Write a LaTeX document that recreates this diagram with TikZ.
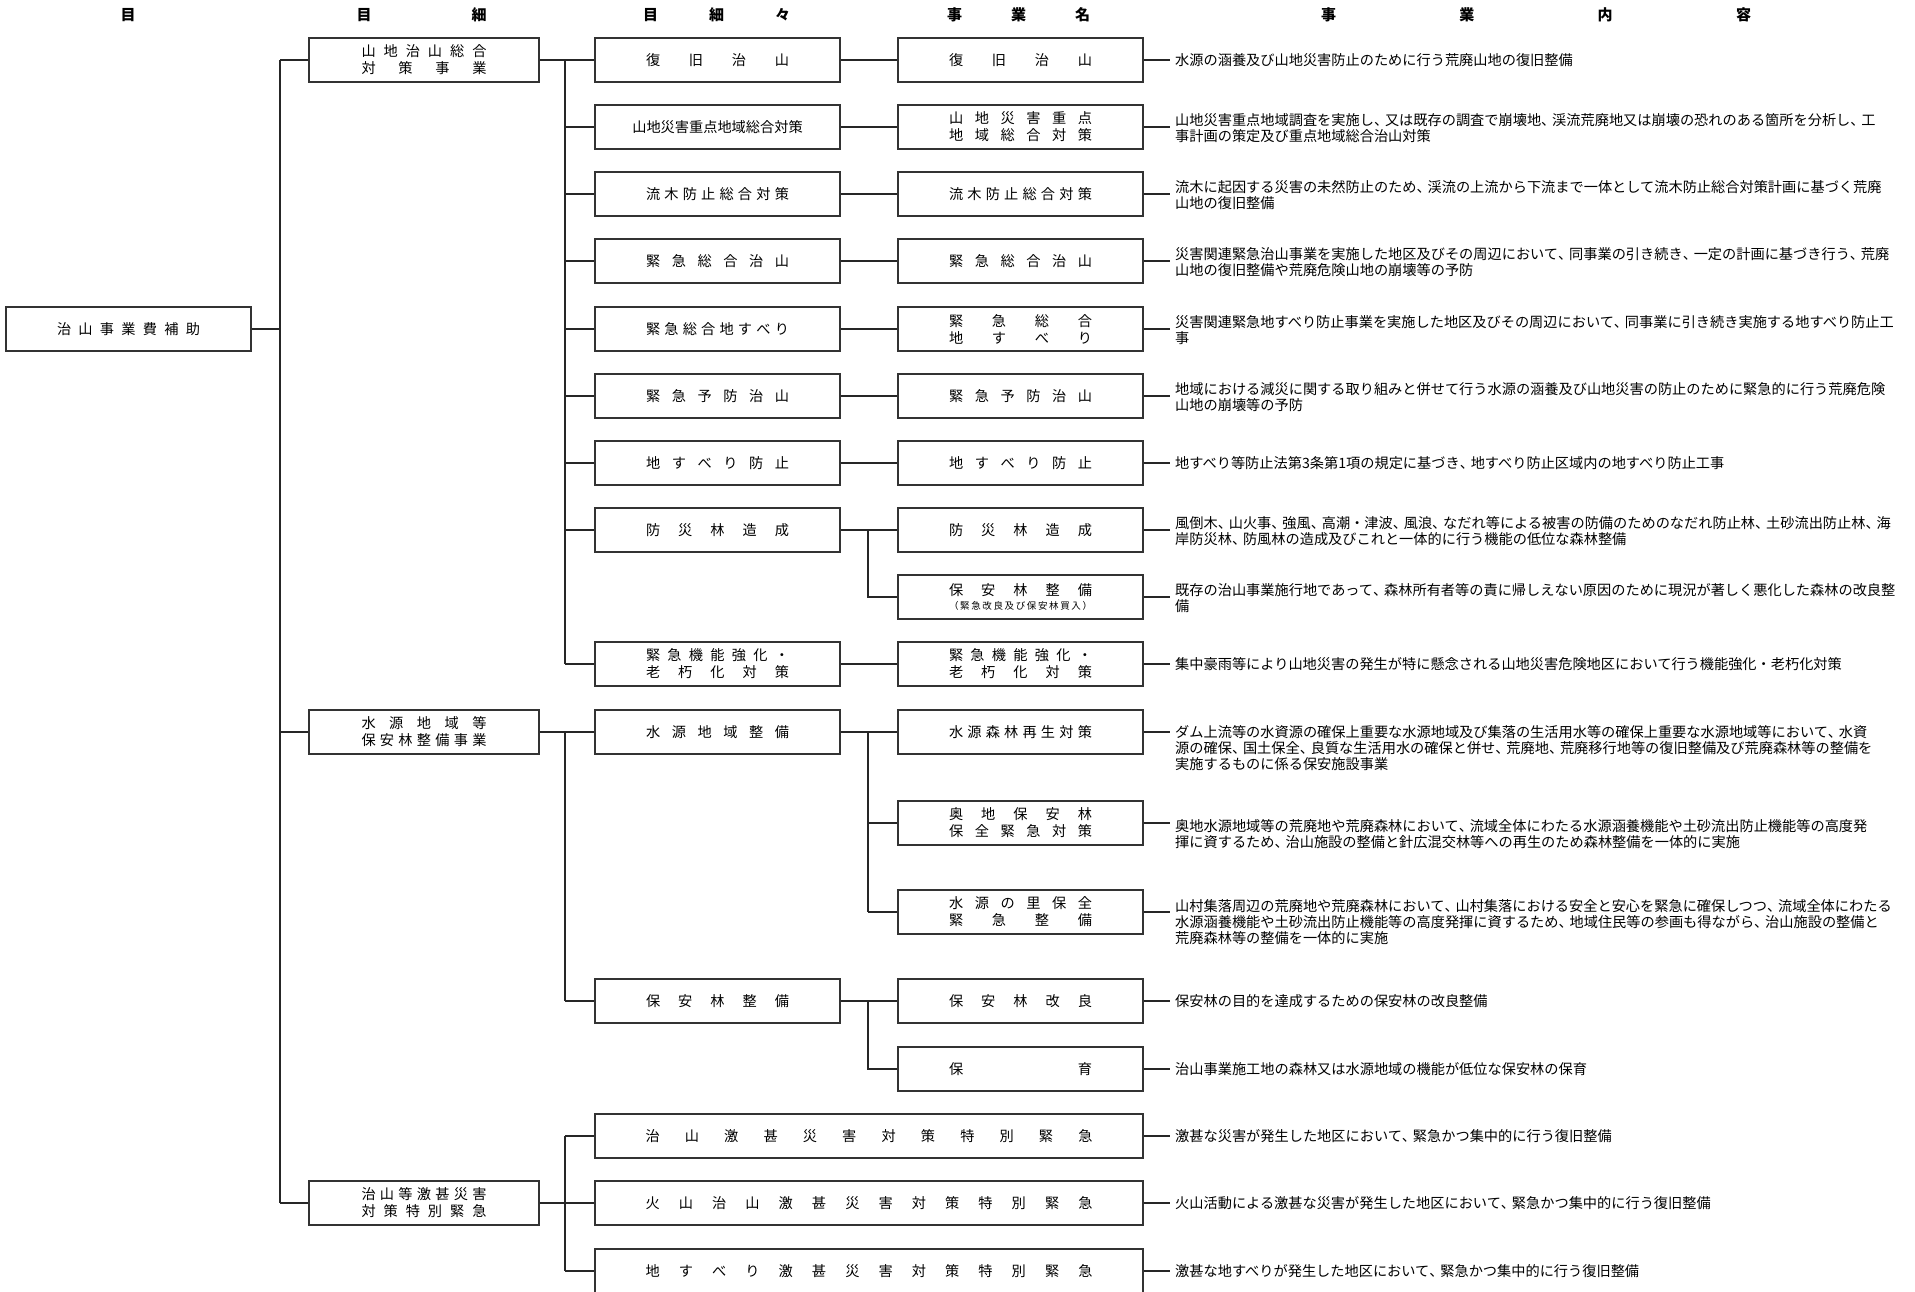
\documentclass[tikz,border=0pt]{standalone}
\usepackage{fontspec}
\setmainfont{Noto Sans CJK JP}
\makeatletter
\def\sprd#1{\sprd@a#1\sprd@end}
\def\sprd@a#1#2\sprd@end{#1\if\relax\detokenize{#2}\relax\else\hfill\sprd@a#2\sprd@end\fi}
\makeatother
\newcommand\dist[2]{\makebox[#1][s]{\sprd{#2}}}
\catcode`、=\active
\def、{\hbox to 11pt{\char"3001\hss}}
\newcommand\bxfont{\fontsize{14.2pt}{17pt}\selectfont}
\newcommand\dsfont{\fontsize{14.2pt}{16pt}\selectfont}
\newcommand\hdfont{\fontsize{15pt}{17pt}\selectfont\bfseries}
\newcommand\smfont{\fontsize{9.5pt}{11pt}\selectfont}
\tikzset{
  ln/.style={draw=black!85, line width=1.1pt},
  bx/.style={draw=black!80, line width=1.2pt, inner sep=0pt, minimum height=44pt, align=center, font=\bxfont},
  wA/.style={bx, minimum width=245pt},
  wB/.style={bx, minimum width=230pt},
  wW/.style={bx, minimum width=548pt},
  desc/.style={inner xsep=5pt, inner ysep=0pt, align=left, font=\dsfont},
  hd/.style={inner sep=0pt, font=\hdfont},
}
\begin{document}
\begin{tikzpicture}[x=1pt,y=-1pt]
\useasboundingbox (0,0) rectangle (1915,1291);
% headers
\node[hd] (h1) at (128,15) {目};
\node[hd] (h2) at (421.5,15) {\dist{130pt}{目細}};
\node[hd] (h3) at (716.5,15) {\dist{147pt}{目細々}};
\node[hd] (h4) at (1018.5,15) {\dist{143pt}{事業名}};
\node[hd] (h5) at (1536,15) {\dist{430pt}{事業内容}};
% bus coordinates
\coordinate (busA) at (280,0);
\coordinate (busB) at (565,0);
\coordinate (busC) at (868,0);
% root and column 2
\node[wA] (root) at (128.5,329) {\dist{143pt}{治山事業費補助}};
\node[wB] (a1) at (424,60) {\dist{125pt}{山地治山総合}\\\dist{125pt}{対策事業}};
\node[wB] (a2) at (424,732) {\dist{125pt}{水源地域等}\\\dist{125pt}{保安林整備事業}};
\node[wB] (a3) at (424,1203) {\dist{125pt}{治山等激甚災害}\\\dist{125pt}{対策特別緊急}};
% column 3
\node[wA] (b0) at (717.5,60) {\dist{143pt}{復旧治山}};
\node[wA] (b1) at (717.5,127) {山地災害重点地域総合対策};
\node[wA] (b2) at (717.5,194) {\dist{143pt}{流木防止総合対策}};
\node[wA] (b3) at (717.5,261) {\dist{143pt}{緊急総合治山}};
\node[wA] (b4) at (717.5,329) {\dist{143pt}{緊急総合地すべり}};
\node[wA] (b5) at (717.5,396) {\dist{143pt}{緊急予防治山}};
\node[wA] (b6) at (717.5,463) {\dist{143pt}{地すべり防止}};
\node[wA] (b7) at (717.5,530) {\dist{143pt}{防災林造成}};
\node[wA] (b9) at (717.5,664) {\dist{143pt}{緊急機能強化・}\\\dist{143pt}{老朽化対策}};
\node[wA] (b10) at (717.5,732) {\dist{143pt}{水源地域整備}};
\node[wA] (b13) at (717.5,1001) {\dist{143pt}{保安林整備}};
% column 4
\node[wA] (c0) at (1020.5,60) {\dist{143pt}{復旧治山}};
\node[wA] (c1) at (1020.5,127) {\dist{143pt}{山地災害重点}\\\dist{143pt}{地域総合対策}};
\node[wA] (c2) at (1020.5,194) {\dist{143pt}{流木防止総合対策}};
\node[wA] (c3) at (1020.5,261) {\dist{143pt}{緊急総合治山}};
\node[wA] (c4) at (1020.5,329) {\dist{143pt}{緊急総合}\\\dist{143pt}{地すべり}};
\node[wA] (c5) at (1020.5,396) {\dist{143pt}{緊急予防治山}};
\node[wA] (c6) at (1020.5,463) {\dist{143pt}{地すべり防止}};
\node[wA] (c7) at (1020.5,530) {\dist{143pt}{防災林造成}};
\node[wA] (c8) at (1020.5,597) {\dist{143pt}{保安林整備}\\[-3pt]{\smfont\dist{143pt}{（緊急改良及び保安林買入）}}};
\node[wA] (c9) at (1020.5,664) {\dist{143pt}{緊急機能強化・}\\\dist{143pt}{老朽化対策}};
\node[wA] (c10) at (1020.5,732) {\dist{143pt}{水源森林再生対策}};
\node[wA] (c11) at (1020.5,823) {\dist{143pt}{奥地保安林}\\\dist{143pt}{保全緊急対策}};
\node[wA] (c12) at (1020.5,912) {\dist{143pt}{水源の里保全}\\\dist{143pt}{緊急整備}};
\node[wA] (c13) at (1020.5,1001) {\dist{143pt}{保安林改良}};
\node[wA] (c14) at (1020.5,1069) {\dist{143pt}{保育}};
% wide boxes
\node[wW] (w1) at (869,1136) {\dist{447pt}{治山激甚災害対策特別緊急}};
\node[wW] (w2) at (869,1203) {\dist{447pt}{火山治山激甚災害対策特別緊急}};
\node[wW] (w3) at (869,1271) {\dist{447pt}{地すべり激甚災害対策特別緊急}};
% descriptions
\node[desc, anchor=west] (d0) at (1170,60) {水源の涵養及び山地災害防止のために行う荒廃山地の復旧整備};
\node[desc, anchor=north west] (d1) at (1170,113.5) {山地災害重点地域調査を実施し、又は既存の調査で崩壊地、渓流荒廃地又は崩壊の恐れのある箇所を分析し、工\\事計画の策定及び重点地域総合治山対策};
\node[desc, anchor=north west] (d2) at (1170,180.5) {流木に起因する災害の未然防止のため、渓流の上流から下流まで一体として流木防止総合対策計画に基づく荒廃\\山地の復旧整備};
\node[desc, anchor=north west] (d3) at (1170,247.5) {災害関連緊急治山事業を実施した地区及びその周辺において、同事業の引き続き、一定の計画に基づき行う、荒廃\\山地の復旧整備や荒廃危険山地の崩壊等の予防};
\node[desc, anchor=north west] (d4) at (1170,315.5) {災害関連緊急地すべり防止事業を実施した地区及びその周辺において、同事業に引き続き実施する地すべり防止工\\事};
\node[desc, anchor=north west] (d5) at (1170,382.5) {地域における減災に関する取り組みと併せて行う水源の涵養及び山地災害の防止のために緊急的に行う荒廃危険\\山地の崩壊等の予防};
\node[desc, anchor=west] (d6) at (1170,463) {地すべり等防止法第3条第1項の規定に基づき、地すべり防止区域内の地すべり防止工事};
\node[desc, anchor=north west] (d7) at (1170,516.5) {風倒木、山火事、強風、高潮・津波、風浪、なだれ等による被害の防備のためのなだれ防止林、土砂流出防止林、海\\岸防災林、防風林の造成及びこれと一体的に行う機能の低位な森林整備};
\node[desc, anchor=north west] (d8) at (1170,583.5) {既存の治山事業施行地であって、森林所有者等の責に帰しえない原因のために現況が著しく悪化した森林の改良整\\備};
\node[desc, anchor=west] (d9) at (1170,664) {集中豪雨等により山地災害の発生が特に懸念される山地災害危険地区において行う機能強化・老朽化対策};
\node[desc, anchor=north west] (d10) at (1170,725.5) {ダム上流等の水資源の確保上重要な水源地域及び集落の生活用水等の確保上重要な水源地域等において、水資\\源の確保、国土保全、良質な生活用水の確保と併せ、荒廃地、荒廃移行地等の復旧整備及び荒廃森林等の整備を\\実施するものに係る保安施設事業};
\node[desc, anchor=north west] (d11) at (1170,819) {奥地水源地域等の荒廃地や荒廃森林において、流域全体にわたる水源涵養機能や土砂流出防止機能等の高度発\\揮に資するため、治山施設の整備と針広混交林等への再生のため森林整備を一体的に実施};
\node[desc, anchor=north west] (d12) at (1170,899.5) {山村集落周辺の荒廃地や荒廃森林において、山村集落における安全と安心を緊急に確保しつつ、流域全体にわたる\\水源涵養機能や土砂流出防止機能等の高度発揮に資するため、地域住民等の参画も得ながら、治山施設の整備と\\荒廃森林等の整備を一体的に実施};
\node[desc, anchor=west] (d13) at (1170,1001) {保安林の目的を達成するための保安林の改良整備};
\node[desc, anchor=west] (d14) at (1170,1069) {治山事業施工地の森林又は水源地域の機能が低位な保安林の保育};
\node[desc, anchor=west] (d15) at (1170,1136) {激甚な災害が発生した地区において、緊急かつ集中的に行う復旧整備};
\node[desc, anchor=west] (d16) at (1170,1203) {火山活動による激甚な災害が発生した地区において、緊急かつ集中的に行う復旧整備};
\node[desc, anchor=west] (d17) at (1170,1271) {激甚な地すべりが発生した地区において、緊急かつ集中的に行う復旧整備};
% connectors: root to column 2
\draw[ln] (root.east) -- (root.east -| busA);
\draw[ln] (a1.west -| busA) -- (a3.west -| busA);
\foreach \n in {a1,a2,a3} \draw[ln] (\n.west -| busA) -- (\n.west);
% column 2 to column 3
\draw[ln] (a1.east) -- (a1.east -| busB);
\draw[ln] (b0.west -| busB) -- (b9.west -| busB);
\foreach \n in {b0,b1,b2,b3,b4,b5,b6,b7,b9} \draw[ln] (\n.west -| busB) -- (\n.west);
\draw[ln] (a2.east) -- (a2.east -| busB);
\draw[ln] (b10.west -| busB) -- (b13.west -| busB);
\foreach \n in {b10,b13} \draw[ln] (\n.west -| busB) -- (\n.west);
\draw[ln] (a3.east) -- (a3.east -| busB);
\draw[ln] (w1.west -| busB) -- (w3.west -| busB);
\foreach \n in {w1,w2,w3} \draw[ln] (\n.west -| busB) -- (\n.west);
% column 3 to column 4
\foreach \i in {0,1,2,3,4,5,6,7,9,10,13} \draw[ln] (b\i.east) -- (c\i.west);
\draw[ln] (c7.west -| busC) -- (c8.west -| busC) -- (c8.west);
\draw[ln] (c10.west -| busC) -- (c12.west -| busC);
\foreach \n in {c11,c12} \draw[ln] (\n.west -| busC) -- (\n.west);
\draw[ln] (c13.west -| busC) -- (c14.west -| busC) -- (c14.west);
% column 4 to descriptions
\foreach \i in {0,...,14} \draw[ln] (c\i.east) -- (c\i.east -| d\i.west);
\draw[ln] (w1.east) -- (w1.east -| d15.west);
\draw[ln] (w2.east) -- (w2.east -| d16.west);
\draw[ln] (w3.east) -- (w3.east -| d17.west);
\end{tikzpicture}
\end{document}
